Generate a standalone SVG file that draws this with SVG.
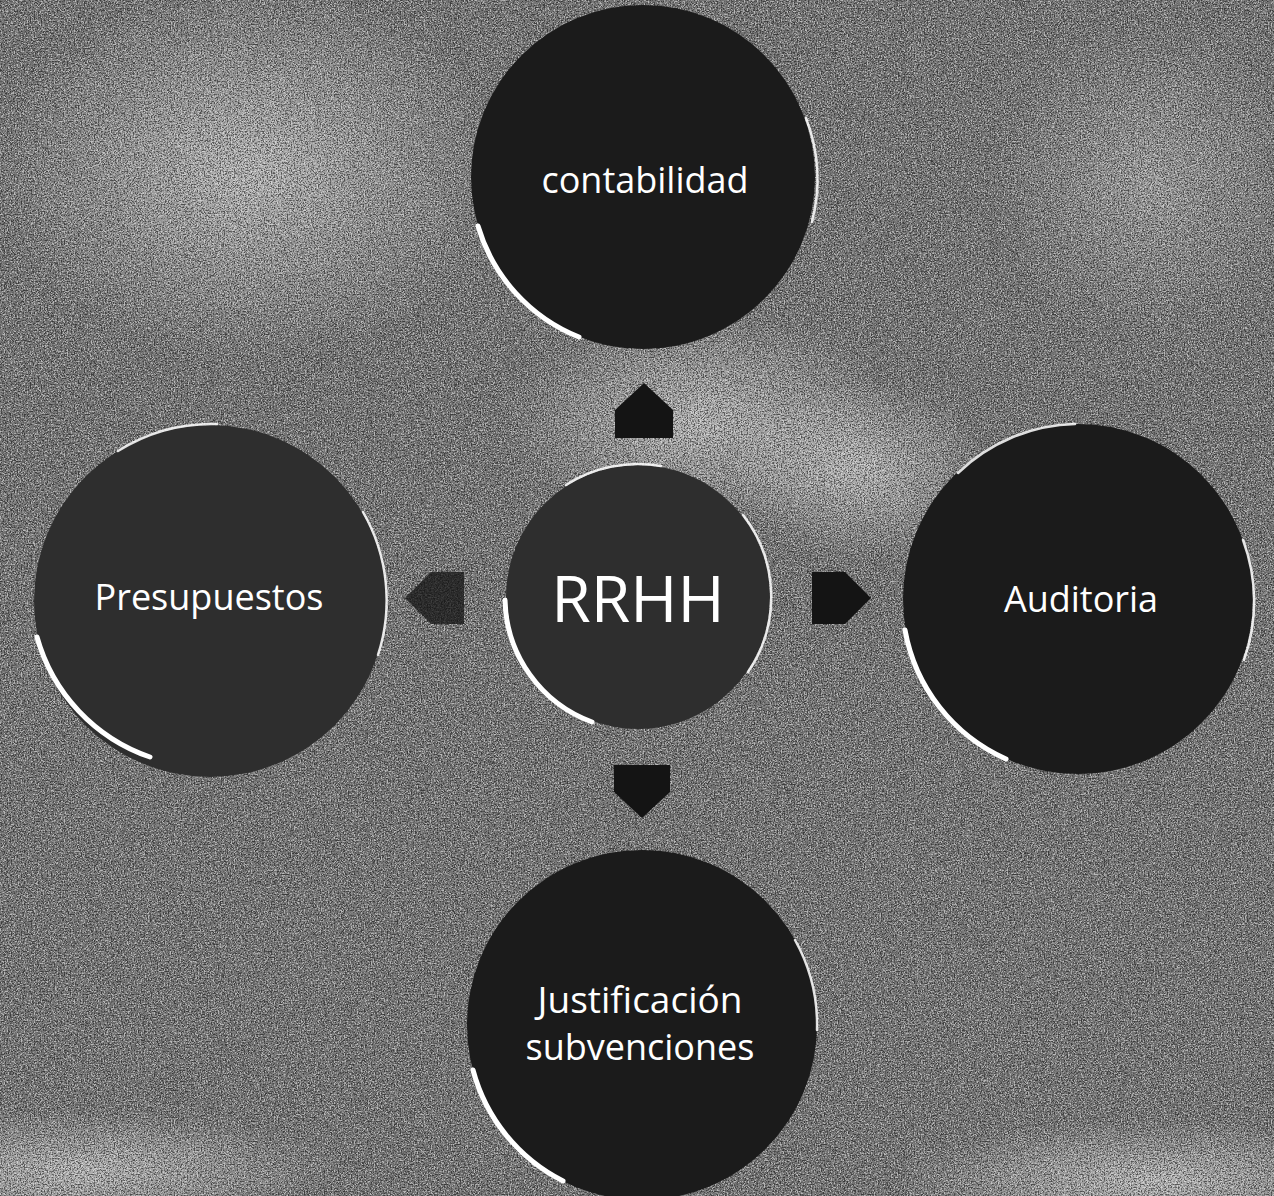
<svg xmlns="http://www.w3.org/2000/svg" width="1274" height="1196" viewBox="0 0 1274 1196">
<style>
.node{fill:#1b1b1b}
.soft{fill:#2e2e2e}
.hl{fill:none;stroke:#ffffff;stroke-width:5;stroke-linecap:round}
.hl2{fill:none;stroke:#ffffff;stroke-width:2.5;stroke-linecap:round;opacity:.85}
.lbl{fill:#ffffff;font-family:"Open Sans","Noto Sans","DejaVu Sans",sans-serif;text-anchor:middle}
.arrow{fill:#141414}
</style>
<defs>
<filter id="grainW" x="0" y="0" width="100%" height="100%">
<feTurbulence type="fractalNoise" baseFrequency="0.7" numOctaves="2" seed="4"/>
<feColorMatrix type="matrix" values="0 0 0 0 1  0 0 0 0 1  0 0 0 0 1  5 0 0 0 -2.4"/>
</filter>
<filter id="grainB" x="0" y="0" width="100%" height="100%">
<feTurbulence type="fractalNoise" baseFrequency="0.7" numOctaves="2" seed="11"/>
<feColorMatrix type="matrix" values="0 0 0 0 0  0 0 0 0 0  0 0 0 0 0  5 0 0 0 -2.4"/>
</filter>
<radialGradient id="lt1" cx="0.5" cy="0.5" r="0.5">
<stop offset="0" stop-color="#cfcfcf" stop-opacity=".7"/>
<stop offset="1" stop-color="#cfcfcf" stop-opacity="0"/>
</radialGradient>
</defs>
<rect width="1274" height="1196" fill="#747474"/>
<ellipse cx="250" cy="170" rx="260" ry="190" fill="url(#lt1)"/>
<ellipse cx="700" cy="420" rx="200" ry="110" fill="url(#lt1)"/>
<ellipse cx="860" cy="470" rx="130" ry="90" fill="url(#lt1)"/>
<ellipse cx="1150" cy="180" rx="160" ry="160" fill="url(#lt1)" opacity=".6"/>
<ellipse cx="80" cy="1170" rx="260" ry="60" fill="url(#lt1)"/>
<ellipse cx="1150" cy="1180" rx="260" ry="60" fill="url(#lt1)"/>
<rect width="1274" height="1196" filter="url(#grainW)" opacity=".5"/>
<rect width="1274" height="1196" filter="url(#grainB)" opacity=".5"/>

<g id="connectors">
<polygon class="arrow" points="615,438 615,410 644,383 673,410 673,438"/>
<polygon class="arrow" points="812,572 845,572 871,598 845,624 812,624"/>
<polygon class="arrow" points="464,572 431,572 405,598 431,624 464,624" opacity=".75"/>
<polygon class="arrow" points="614,765 670,765 670,792 642,818 614,792"/>
</g>

<g id="node-rrhh">
<circle class="soft" cx="638" cy="597" r="132"/>
<path class="hl" d="M505,600 A133,133 0 0 0 592,722"/>
<path class="hl2" d="M566,485 A133,133 0 0 1 661,466"/>
<path class="hl2" d="M743,515 A133,133 0 0 1 748,672"/>
<text class="lbl" x="638" y="622" font-size="64">RRHH</text>
</g>

<g id="node-contabilidad">
<circle class="node" cx="643" cy="177" r="172"/>
<path class="hl" d="M478,226 A172,172 0 0 0 579,337"/>
<path class="hl2" d="M806,118 A172,172 0 0 1 812,222"/>
<text class="lbl" x="645" y="193" font-size="36">contabilidad</text>
</g>

<g id="node-presupuestos">
<circle class="soft" cx="210" cy="601" r="176"/>
<path class="hl" d="M37,637 A177,177 0 0 0 150,757"/>
<path class="hl2" d="M118,451 A177,177 0 0 1 217,424"/>
<path class="hl2" d="M363,512 A177,177 0 0 1 378,655"/>
<text class="lbl" x="209" y="610" font-size="36">Presupuestos</text>
</g>

<g id="node-auditoria">
<circle class="node" cx="1078" cy="599" r="175"/>
<path class="hl" d="M905,630 A175,175 0 0 0 1006,759"/>
<path class="hl2" d="M958,473 A175,175 0 0 1 1075,424"/>
<path class="hl2" d="M1243,540 A175,175 0 0 1 1244,660"/>
<text class="lbl" x="1081" y="612" font-size="36">Auditoria</text>
</g>

<g id="node-justificacion">
<circle class="node" cx="642" cy="1025" r="175"/>
<path class="hl" d="M473,1070 A175,175 0 0 0 563,1181"/>
<path class="hl2" d="M795,940 A175,175 0 0 1 817,1030"/>
<text class="lbl" x="640" y="1013" font-size="37">Justificación</text>
<text class="lbl" x="640" y="1060" font-size="36">subvenciones</text>
</g>
</svg>
